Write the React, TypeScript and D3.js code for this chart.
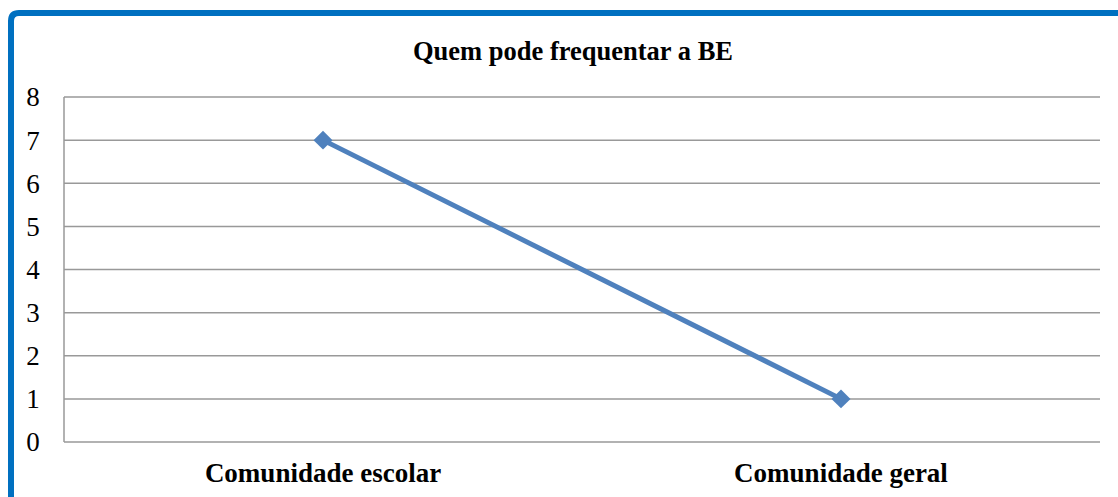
import React, { useEffect, useRef } from 'react';
import * as d3 from 'd3';

const categories = ['Comunidade escolar', 'Comunidade geral'];
const values = [7, 1];
const yTicks = [0, 1, 2, 3, 4, 5, 6, 7, 8];
const title = 'Quem pode frequentar a BE';

const App: React.FC = () => {
  const svgRef = useRef<SVGSVGElement | null>(null);

  useEffect(() => {
    if (!svgRef.current) return;
    const svg = d3.select(svgRef.current);
    const width = 1118;
    const height = 497;
    const margin = { top: 97, right: 18, bottom: 55, left: 64 };
    const font = '"Liberation Serif", "Times New Roman", serif';

    svg.selectAll('*').remove();

    svg.append('rect').attr('width', width).attr('height', height).attr('fill', '#fff');

    // blue frame (top and left, cut off at right/bottom)
    svg.append('path')
      .attr('d', 'M11,510 L11,21 Q11,13 19,13 L1130,13')
      .attr('fill', 'none')
      .attr('stroke', '#0070C0')
      .attr('stroke-width', 6);

    const x = d3.scaleBand()
      .domain(categories)
      .range([margin.left, width - margin.right]);

    const y = d3.scaleLinear()
      .domain([0, 8])
      .range([height - margin.bottom, margin.top]);

    // gridlines
    svg.append('g')
      .selectAll('line')
      .data(yTicks)
      .join('line')
      .attr('x1', margin.left)
      .attr('x2', width - margin.right)
      .attr('y1', d => y(d))
      .attr('y2', d => y(d))
      .attr('stroke', '#999')
      .attr('stroke-width', 1.5);

    // y axis line
    svg.append('line')
      .attr('x1', margin.left).attr('x2', margin.left)
      .attr('y1', y(0)).attr('y2', y(8))
      .attr('stroke', '#999')
      .attr('stroke-width', 1.5);

    // y labels
    svg.append('g')
      .selectAll('text')
      .data(yTicks)
      .join('text')
      .attr('x', 33)
      .attr('y', d => y(d))
      .attr('dy', '0.35em')
      .attr('text-anchor', 'middle')
      .attr('font-family', font)
      .attr('font-size', 27)
      .text(d => d);

    // x labels
    svg.append('g')
      .selectAll('text')
      .data(categories)
      .join('text')
      .attr('x', d => x(d)! + x.bandwidth() / 2)
      .attr('y', 482)
      .attr('text-anchor', 'middle')
      .attr('font-family', font)
      .attr('font-weight', 'bold')
      .attr('font-size', 27)
      .text(d => d);

    // title
    svg.append('text')
      .attr('x', 573)
      .attr('y', 60)
      .attr('text-anchor', 'middle')
      .attr('font-family', font)
      .attr('font-weight', 'bold')
      .attr('font-size', 26.5)
      .text(title);

    const pts = categories.map((c, i) => ({ c, v: values[i] }));

    const line = d3.line<{ c: string; v: number }>()
      .x(d => x(d.c)! + x.bandwidth() / 2)
      .y(d => y(d.v));

    svg.append('path')
      .datum(pts)
      .attr('fill', 'none')
      .attr('stroke', '#4F81BD')
      .attr('stroke-width', 5)
      .attr('d', line);

    svg.append('g')
      .selectAll('path')
      .data(pts)
      .join('path')
      .attr('transform', d => `translate(${x(d.c)! + x.bandwidth() / 2},${y(d.v)})`)
      .attr('d', d3.symbol(d3.symbolDiamond2, 230)())
      .attr('fill', '#4F81BD');
  }, []);

  return (
    <div style={{ position: 'absolute', left: 0, top: 0 }}>
      <svg ref={svgRef} width={1118} height={497} style={{ display: 'block' }} />
    </div>
  );
};

export default App;
